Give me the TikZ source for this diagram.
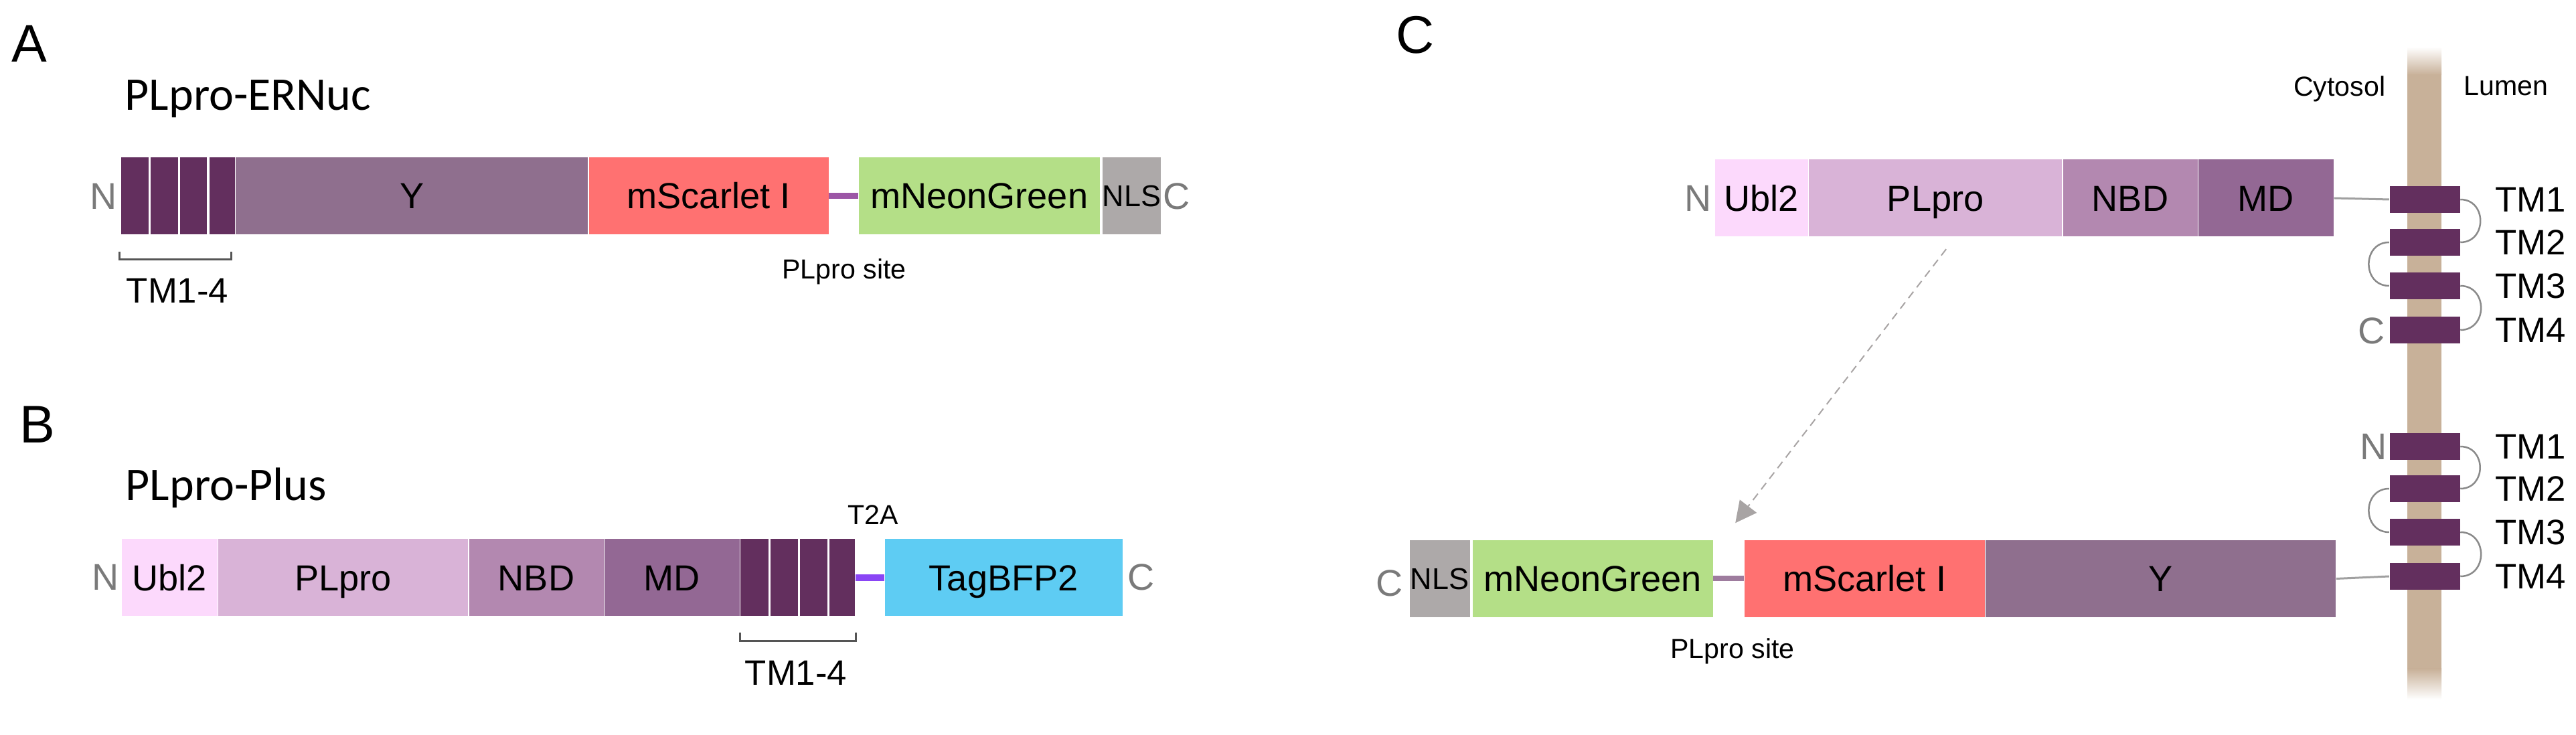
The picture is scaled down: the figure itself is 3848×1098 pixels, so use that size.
\documentclass[tikz,border=0pt]{standalone}
\usepackage{fontspec}
\setmainfont{Liberation Sans}
\newfontfamily\titlefont{Carlito}
\usepackage{tikz}
\usetikzlibrary{calc,arrows.meta}

\newdimen\pu \pu=0.01cm

\definecolor{ublcol}{HTML}{FCD9FC}
\definecolor{plpcol}{HTML}{D9B3D7}
\definecolor{nbdcol}{HTML}{B388B0}
\definecolor{mdcol}{HTML}{936894}
\definecolor{ycol}{HTML}{8F6F8E}
\definecolor{tmcol}{HTML}{632F5E}
\definecolor{scarcol}{HTML}{FF7171}
\definecolor{neoncol}{HTML}{B4DF87}
\definecolor{nlscol}{HTML}{ADA9A9}
\definecolor{bfpcol}{HTML}{5ECCF3}
\definecolor{memcol}{HTML}{C8B199}
\definecolor{linkA}{HTML}{9C56A6}
\definecolor{linkB}{HTML}{8A45F5}
\definecolor{linkC}{HTML}{9E7C9E}
\definecolor{termgray}{HTML}{7A7A7A}
\definecolor{tethergray}{HTML}{A0A0A0}
\definecolor{loopgray}{HTML}{8A8A8A}
\definecolor{brkgray}{HTML}{555555}
\definecolor{arrowgray}{HTML}{A8A4A4}

\tikzset{
  dom/.style={rectangle, inner sep=0pt, minimum height=115\pu, anchor=west,
    font=\fontsize{15.4}{18}\selectfont, text height=11pt, text depth=0pt},
  nlsbox/.style={dom, fill=nlscol, font=\fontsize{12.8}{15}\selectfont, text height=9.2pt},
  tmbox/.style={rectangle, fill=tmcol, inner sep=0pt, minimum width=105\pu, minimum height=40\pu},
  term/.style={text=termgray, font=\fontsize{15.8}{18}\selectfont, inner sep=0pt},
  lab/.style={font=\fontsize{15}{18}\selectfont, inner sep=0pt},
  small/.style={font=\fontsize{11.7}{14}\selectfont, inner sep=0pt},
  panel/.style={font=\fontsize{22.5}{26}\selectfont, inner sep=0pt, anchor=base west},
  title/.style={font=\titlefont\fontsize{19.9}{24}\selectfont, inner sep=0pt, anchor=base west},
  tether/.style={draw=tethergray, line width=3\pu},
  loopline/.style={draw=loopgray, line width=2.5\pu},
  brk/.style={draw=brkgray, line width=3\pu},
  cutarrow/.style={draw=arrowgray, line width=2\pu, dash pattern=on 3.4pt off 2.3pt,
    -{Triangle[length=9pt,width=9pt,fill=arrowgray]}},
}

\begin{document}
\begin{tikzpicture}[x=0.01cm, y=-0.01cm]
\useasboundingbox (0,0) rectangle (3848,1098);

% A
\node[panel] (la) at (17,93) {A};
\node[title] (ta) at (186,165) {PLpro-ERNuc};

\node[dom, fill=tmcol, minimum width=170\pu] (tmA) at (180,292.5) {};
\node[dom, fill=ycol, minimum width=526\pu] (ya) at (tmA.east) {Y};
\node[dom, fill=scarcol, minimum width=358\pu] (sa) at (ya.east) {mScarlet I};
\node[dom, fill=neoncol, minimum width=360\pu] (na) at (1282,292.5) {mNeonGreen};
\node[nlsbox, minimum width=87\pu] (nlsa) at (1646,292.5) {NLS};
\foreach \f in {0.255,0.51,0.765}
  \draw[white, line width=3.5\pu] ($(tmA.north west)!\f!(tmA.north east)$) -- ($(tmA.south west)!\f!(tmA.south east)$);
\draw[draw=linkA, line width=9\pu] (sa.east) -- (na.west);

\node[term] (nA) at (155,293) {N};
\node[term] (cA) at (1758,293) {C};
\draw[brk] ($(tmA.south west)+(-2,25)$) -- ++(0,12) -- ++(167,0) -- ++(0,-12);
\node[lab, anchor=base] (tmlA) at (265,453) {TM1-4};
\node[small, anchor=base] (psA) at (1261,417) {PLpro site};

% B
\node[panel] (lb) at (29,662) {B};
\node[title] (tb) at (187,748) {PLpro-Plus};

\node[dom, fill=ublcol, minimum width=143\pu] (ub) at (181,863) {Ubl2};
\node[dom, fill=plpcol, minimum width=373\pu] (pb) at (ub.east) {PLpro};
\node[dom, fill=nbdcol, minimum width=201\pu] (nb) at (pb.east) {NBD};
\node[dom, fill=mdcol, minimum width=202\pu] (mb) at (nb.east) {MD};
\node[dom, fill=tmcol, minimum width=171\pu] (tmB) at (mb.east) {};
\node[dom, fill=bfpcol, minimum width=355\pu] (bfp) at (1321,863) {TagBFP2};
\foreach \f in {0.255,0.51,0.765}
  \draw[white, line width=3.5\pu] ($(tmB.north west)!\f!(tmB.north east)$) -- ($(tmB.south west)!\f!(tmB.south east)$);
\draw[draw=linkB, line width=10\pu] (tmB.east) -- (bfp.west);

\node[term] (nB) at (158,862) {N};
\node[term] (cB) at (1705,862) {C};
\node[small, anchor=base] (t2a) at (1304,784) {T2A};
\draw[brk] ($(tmB.south west)+(0,24)$) -- ++(0,12) -- ++(173,0) -- ++(0,-12);
\node[lab, anchor=base] (tmlB) at (1189,1024) {TM1-4};

% C
\node[panel] (lc) at (2085,80) {C};

\shade[top color=white, bottom color=memcol] (3596,70) rectangle (3647,112);
\fill[memcol] (3596,111) rectangle (3647,1000);
\shade[top color=memcol, bottom color=white] (3596,999) rectangle (3647,1045);
\node[small, anchor=base east] (cyt) at (3564,144) {Cytosol};
\node[small, anchor=base west] (lum) at (3680,143) {Lumen};

\node[dom, fill=ublcol, minimum width=139\pu] (uc) at (2561,296) {Ubl2};
\node[dom, fill=plpcol, minimum width=378\pu] (pc) at (uc.east) {PLpro};
\node[dom, fill=nbdcol, minimum width=201\pu] (nc) at (pc.east) {NBD};
\node[dom, fill=mdcol, minimum width=202\pu] (mc) at (nc.east) {MD};
\node[term] (nC) at (2537,296) {N};

\foreach \i/\y in {1/298,2/362,3/427,4/493} {
  \node[tmbox] (t\i) at (3622,\y) {};
  \node[lab, anchor=west] (tl\i) at (3727,\y) {TM\i};
}
\foreach \i/\y in {1/667,2/730,3/795,4/861} {
  \node[tmbox] (u\i) at (3622,\y) {};
  \node[lab, anchor=west] (ul\i) at (3727,\y) {TM\i};
}
\draw[loopline] (t1.east) to[out=0,in=0,looseness=1.6] (t2.east);
\draw[loopline] (t2.west) to[out=180,in=180,looseness=1.6] (t3.west);
\draw[loopline] (t3.east) to[out=0,in=0,looseness=1.6] (t4.east);
\draw[loopline] (u1.east) to[out=0,in=0,looseness=1.6] (u2.east);
\draw[loopline] (u2.west) to[out=180,in=180,looseness=1.6] (u3.west);
\draw[loopline] (u3.east) to[out=0,in=0,looseness=1.6] (u4.east);
\draw[tether] (mc.east) -- (t1.west);
\node[term] (cC) at (3543,494) {C};
\node[term] (nC2) at (3546,667) {N};

\node[nlsbox, minimum width=90\pu] (nlsc) at (2105,864.5) {NLS};
\node[dom, fill=neoncol, minimum width=359\pu] (ngc) at (2199,864.5) {mNeonGreen};
\node[dom, fill=scarcol, minimum width=359\pu] (sc) at (2605,864.5) {mScarlet I};
\node[dom, fill=ycol, minimum width=523\pu] (yc) at (sc.east) {Y};
\draw[draw=linkC, line width=8\pu] (ngc.east) -- (sc.west);
\draw[tether] (yc.east) -- (u4.west);
\node[term] (cC2) at (2076,871) {C};
\node[small, anchor=base] (psC) at (2588,984) {PLpro site};

\coordinate (src) at ($(pc.south)+(16,18)$);
\coordinate (cut) at ($(ngc.north east)!0.5!(sc.north west)+(10,-25)$);
\draw[cutarrow] (src) -- (cut);
\end{tikzpicture}
\end{document}
